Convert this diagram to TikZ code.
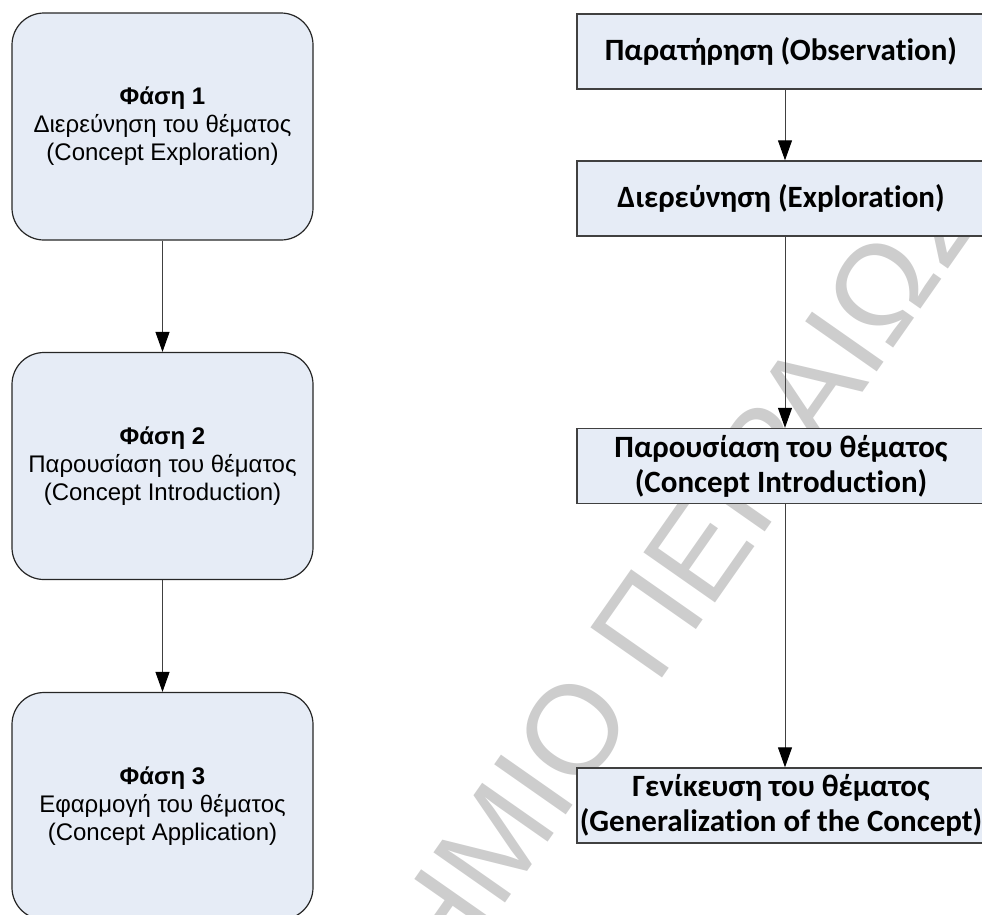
\documentclass[tikz,border=0pt]{standalone}
\usepackage{fontspec}
\setmainfont{Liberation Sans}
\newfontfamily\carlito{Carlito}[Ligatures=NoCommon]
\usetikzlibrary{arrows.meta}
\definecolor{boxfill}{HTML}{E6ECF6}
\definecolor{wmgray}{HTML}{CDCDCD}
\begin{document}
\begin{tikzpicture}[x=1pt,y=-1pt,
  phase/.style={draw=black!85, line width=1.2pt, fill=boxfill, rounded corners=32pt,
    minimum width=301pt, minimum height=227pt, align=center, inner sep=0pt,
    font=\fontsize{24}{28}\selectfont},
  stage/.style={draw=black!75, line width=1.4pt, fill=boxfill,
    minimum width=408pt, minimum height=75pt, align=center, inner sep=0pt,
    font=\carlito\bfseries\fontsize{31}{35}\selectfont},
  flow/.style={draw=black!75, line width=1pt,
    -{Triangle[length=20pt,width=14pt,color=black]}},
  wmark/.style={text=wmgray, rotate=55, inner sep=0pt, font=\fontsize{127}{127}\selectfont}
]
\useasboundingbox (0,0) rectangle (982,914);
\clip (0,0) rectangle (982,914);

% background watermark
\node[wmark] (wm) at (500,834) {ΠΑΝΕΠΙΣΤΗΜΙΟ ΠΕΙΡΑΙΩΣ};

% left column: the three phases
\node[phase] (p1) at (162.5,126.5) {\textbf{Φάση 1}\\Διερεύνηση του θέματος\\(Concept Exploration)};
\node[phase] (p2) at (162.5,466) {\textbf{Φάση 2}\\Παρουσίαση του θέματος\\(Concept Introduction)};
\node[phase] (p3) at (162.5,806) {\textbf{Φάση 3}\\Εφαρμογή του θέματος\\(Concept Application)};

\draw[flow] (p1) -- (p2);
\draw[flow] (p2) -- (p3);

% right column: the four stages
\node[stage] (s1) at (781,51.5) {Παρατήρηση (Observation)};
\node[stage] (s2) at (781,198.5) {Διερεύνηση (Exploration)};
\node[stage] (s3) at (781,466) {Παρουσίαση του θέματος\\(Concept Introduction)};
\node[stage] (s4) at (781,805.5) {Γενίκευση του θέματος\\(Generalization of the Concept)};

\coordinate (rc) at (785,0);
\draw[flow] (s1.south -| rc) -- (s2.north -| rc);
\draw[flow] (s2.south -| rc) -- (s3.north -| rc);
\draw[flow] (s3.south -| rc) -- (s4.north -| rc);
\end{tikzpicture}
\end{document}
